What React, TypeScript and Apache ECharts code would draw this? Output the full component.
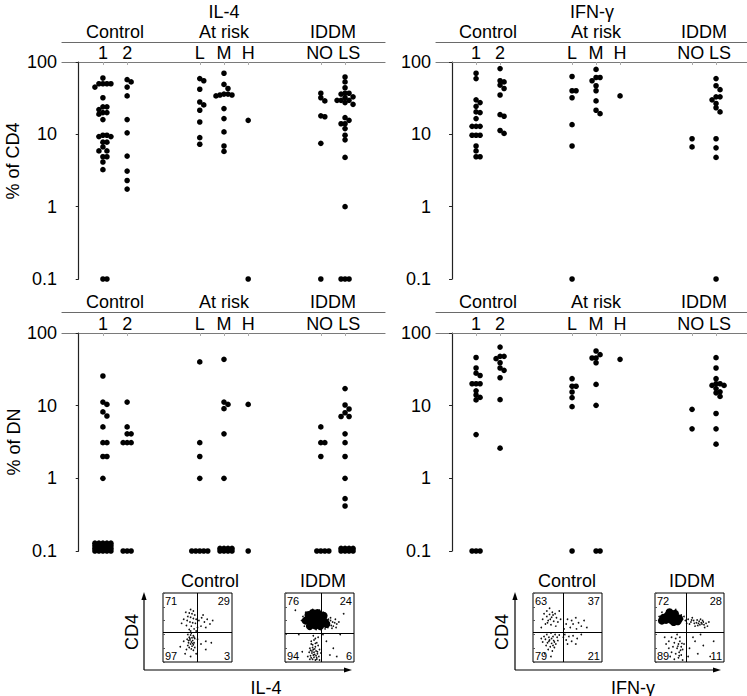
import React, { useEffect, useRef } from "react";
import * as echarts from "echarts";

const FONT = '"Liberation Sans", Arial, Helvetica, sans-serif';

// ---------- dot-plot data ----------
const subgroupLabels = ["1", "2", "L", "M", "H", "NO", "LS"];
const subgroupPos = [1, 2, 5, 6, 7, 10, 11];
const subgroupLabelPos = [1, 2, 5, 6, 7, 9.95, 11.17];
const groupLabels = ["Control", "At risk", "IDDM"];
const groupPos = [1.5, 6, 10.5];
const yTickLabels = ["0.1", "1", "10", "100"];

// values per subgroup, order: 1, 2, L, M, H, NO, LS ; 0.1 = undetectable floor
const il4Cd4 = [
  [60, 50, 50, 50, 50, 45, 32, 24, 24, 22, 20, 20, 19, 16, 9.7, 9.7, 9.3, 9.3, 7.8, 7.8, 6.7, 5.9, 5.9, 4.9, 4.9, 4.15, 3.25, 0.1, 0.1],
  [57, 53, 45, 34, 16, 10.5, 5, 3.1, 2.3, 1.75],
  [59, 55, 42, 28, 25.5, 21.5, 14.8, 9, 7.3],
  [70, 49, 43, 36, 36, 35, 35, 34, 22.7, 16.5, 10.8, 6.9, 5.8],
  [15.6, 0.1],
  [37, 32, 29, 18, 17.5, 7.5, 0.1],
  [62, 53, 44, 37, 37, 36, 33, 32, 29.5, 29.5, 29.5, 27.5, 26, 17, 15.6, 14, 14, 12, 9.7, 8.4, 4.8, 1.0, 0.1, 0.1, 0.1],
];
const ifnCd4 = [
  [70, 59, 30, 27.5, 24.4, 20.4, 20, 16.5, 12.9, 12.9, 12.9, 9.7, 9.7, 9.7, 6.9, 5.9, 4.9, 4.9],
  [81, 55, 53, 48, 43, 35, 18.7, 17.8, 11.3, 10.3],
  [63, 40, 40, 32, 13.6, 6.9, 0.1],
  [79, 61, 61, 55, 47, 40, 29, 21.5, 19.3],
  [34],
  [8.7, 6.7],
  [59, 47, 41.5, 33, 33, 30, 26.7, 23.3, 20.4, 8.7, 6.5, 4.8, 0.1],
];
const il4Dn = [
  [25.6, 11.2, 10.4, 8.2, 7.2, 5.1, 3.1, 3.1, 2, 2, 1,
    0.1, 0.1, 0.1, 0.1, 0.1, 0.1, 0.1, 0.1, 0.1, 0.1, 0.1, 0.1, 0.1, 0.1, 0.1, 0.1, 0.1, 0.1, 0.1, 0.1],
  [11.2, 5.1, 4.1, 4.1, 3.1, 3.1, 3.1, 0.1, 0.1, 0.1],
  [40, 3.1, 2, 1, 0.1, 0.1, 0.1, 0.1, 0.1],
  [43.4, 11.2, 10.4, 9.1, 4.1, 1, 0.1, 0.1, 0.1, 0.1, 0.1, 0.1, 0.1, 0.1],
  [10.4, 0.1],
  [5.1, 3.1, 3.1, 2, 0.1, 0.1, 0.1, 0.1],
  [17.2, 10.2, 9, 8, 7.1, 7.1, 4.1, 3.1, 2, 1, 0.525, 0.416, 0.1, 0.1, 0.1, 0.1, 0.1, 0.1, 0.1, 0.1],
];
const ifnDn = [
  [46, 33, 28, 26, 20, 20, 20, 16, 14, 13, 12, 4, 0.1, 0.1, 0.1],
  [64, 47.7, 47.7, 44.3, 39, 33, 30.6, 24.2, 12.1, 2.6],
  [23.5, 18.5, 18.5, 15.4, 12.9, 9.7, 0.1],
  [56.5, 50.3, 45.3, 45.3, 39, 19.6, 10.1, 0.1, 0.1],
  [43.4],
  [8.9, 4.8],
  [45.8, 33, 23.5, 20, 20, 19, 19, 17.2, 15.5, 15, 13.4, 7.8, 4.8, 2.95],
];

// ---------- flow cytometry data (box coordinates 0..100) ----------
const il4CtrlDots = [
  [40, 76], [44, 74], [38, 71], [42, 70], [46, 68], [36, 66], [40, 65], [44, 63], [48, 62], [35, 60], [39, 58], [43, 57], [47, 56],
  [52, 60], [56, 64], [60, 58], [64, 62], [68, 55], [55, 52], [50, 50], [34, 53], [41, 52], [45, 48], [38, 47], [30, 62], [27, 56],
  [33, 72], [62, 50], [58, 68], [72, 60], [40, 45], [48, 45],
  [36, 40], [40, 39], [44, 38], [38, 36], [42, 35], [46, 34], [35, 33], [39, 32], [43, 31], [41, 29], [37, 28], [45, 28], [40, 26],
  [44, 25], [36, 24], [42, 23], [38, 21], [46, 21], [41, 19], [34, 18], [44, 17], [30, 30], [50, 33], [55, 26], [62, 30], [25, 22],
  [32, 12], [48, 12], [40, 8], [62, 18], [70, 28], [39, 34], [43, 27], [37, 31], [45, 36], [41, 42],
];
const il4IddmCore = [
  [30, 60], [36, 63], [42, 66], [48, 66], [54, 63], [38, 57], [45, 59], [52, 58], [34, 68], [40, 71], [47, 71], [58, 58],
  [44, 53], [51, 52], [60, 55], [36, 52], [56, 67],
];
const il4IddmDots = [
  [60, 58], [64, 55], [66, 60], [70, 52], [72, 57], [75, 55], [68, 49], [62, 50], [58, 48], [78, 58], [73, 62], [66, 64], [24, 60],
  [26, 66], [30, 72], [28, 52], [35, 48], [45, 47], [52, 47], [55, 72], [50, 75], [40, 76], [69, 58], [74, 50], [63, 62], [67, 53],
  [38, 30], [42, 32], [46, 28], [40, 25], [44, 22], [48, 24], [36, 20], [41, 18], [45, 16], [39, 13], [43, 11], [47, 12], [37, 9],
  [42, 7], [46, 6], [40, 4], [44, 3], [49, 8], [35, 14], [50, 18], [38, 26], [44, 34], [48, 36], [41, 38], [36, 4], [50, 3], [33, 8],
  [52, 13], [39, 16], [43, 19], [47, 15], [41, 10], [45, 9], [38, 6], [42, 14], [40, 21], [46, 4], [37, 17], [44, 27],
  [20, 40], [60, 30], [70, 20], [80, 40], [15, 75], [85, 70], [65, 10], [25, 15], [55, 40], [75, 8],
];
const ifnCtrlDots = [
  [24, 78], [20, 74], [28, 72], [16, 70], [24, 69], [32, 70], [20, 66], [27, 65], [34, 64], [14, 62], [22, 60], [30, 59], [36, 58],
  [18, 55], [26, 54], [33, 52], [12, 50], [40, 62], [38, 74], [25, 62], [29, 68], [21, 57],
  [50, 62], [56, 60], [62, 64], [58, 55], [66, 57], [70, 52], [54, 50], [63, 48], [74, 60], [48, 55], [78, 50], [45, 48],
  [20, 40], [26, 42], [32, 40], [16, 37], [23, 36], [29, 37], [35, 36], [18, 33], [24, 32], [30, 31], [36, 31], [14, 29], [21, 28],
  [27, 27], [33, 26], [19, 24], [25, 22], [31, 21], [22, 18], [28, 16], [38, 39], [12, 34], [17, 12], [26, 8], [27, 34], [31, 29],
  [23, 30], [29, 24],
  [46, 40], [52, 37], [58, 38], [48, 32], [56, 30], [64, 34], [50, 26], [62, 26], [70, 40], [44, 36],
];
const ifnIddmCore = [
  [12, 64], [18, 67], [24, 67], [30, 65], [16, 61], [23, 61], [29, 70], [35, 63], [21, 72], [10, 60], [27, 58], [33, 59],
];
const ifnIddmDots = [
  [40, 62], [44, 60], [48, 62], [52, 58], [56, 60], [60, 57], [64, 59], [68, 55], [62, 53], [70, 58], [74, 56], [66, 62], [58, 52],
  [50, 55], [76, 52], [54, 64], [46, 56], [72, 50], [78, 58], [8, 58], [6, 66], [10, 72], [30, 76], [38, 68], [42, 66], [61, 61],
  [65, 54], [69, 60], [57, 56], [53, 61], [67, 57], [71, 54], [63, 56],
  [24, 36], [30, 34], [36, 30], [20, 30], [28, 28], [34, 26], [38, 22], [32, 20], [26, 22], [40, 18], [35, 14], [30, 12], [38, 10],
  [24, 14], [20, 20], [16, 26], [34, 6], [28, 4], [40, 3], [22, 8], [36, 36], [14, 36], [32, 40], [42, 26], [37, 17], [33, 23],
  [39, 27], [35, 9],
  [50, 20], [58, 30], [62, 12], [70, 24], [80, 8], [55, 36], [66, 40], [48, 8], [85, 30],
];

const il4CtrlQuad = [49, 43];
const il4IddmQuad = [52, 42];
const ifnCtrlQuad = [43.5, 43];
const ifnIddmQuad = [46, 43];
// quadrant percentages: top-left, top-right, bottom-left, bottom-right
const il4CtrlPct = ["71", "29", "97", "3"];
const il4IddmPct = ["76", "24", "94", "6"];
const ifnCtrlPct = ["63", "37", "79", "21"];
const ifnIddmPct = ["72", "28", "89", "11"];

function slotOf(k: number) {
  return k === 0 ? 0 : k % 2 === 1 ? (k + 1) / 2 : -k / 2;
}

function swarm(groups: number[][], unitPx: number, pxPerDecade: number) {
  const out: number[][] = [];
  const stepU = 4 / unitPx;
  const V = 4.2;
  groups.forEach((vals, gi) => {
    const cx = subgroupPos[gi];
    const floorN = vals.filter((v) => v <= 0.1).length;
    const rest = vals.filter((v) => v > 0.1).sort((a, b) => b - a);
    const placed: { slot: number; py: number }[] = [];
    rest.forEach((v) => {
      const py = Math.log10(v) * pxPerDecade;
      for (let k = 0; k < 40; k++) {
        const slot = slotOf(k);
        if (!placed.some((p) => p.slot === slot && Math.abs(p.py - py) < V)) {
          placed.push({ slot, py });
          out.push([cx + slot * stepU, v]);
          break;
        }
      }
    });
    if (floorN > 0) {
      const rows = Math.ceil(floorN / 5);
      const perRow = Math.ceil(floorN / rows);
      for (let i = 0; i < floorN; i++) {
        const r = Math.floor(i / perRow);
        const c = i % perRow;
        const v = 0.1 * Math.pow(10, (r * 2.6) / pxPerDecade);
        out.push([cx + slotOf(c) * stepU, v]);
      }
    }
  });
  return out;
}

function nearestLabel(v: number) {
  let best = 0;
  subgroupLabelPos.forEach((p, i) => {
    if (Math.abs(p - v) < Math.abs(subgroupLabelPos[best] - v)) best = i;
  });
  return Math.abs(subgroupLabelPos[best] - v) < 0.05 ? subgroupLabels[best] : "";
}

export default function App() {
  const ref = useRef<HTMLDivElement>(null);
  useEffect(() => {
    if (!ref.current) return;
    const chart = echarts.init(ref.current, null, { renderer: "svg" });

    const panels = [
      { data: il4Cd4, left: 62, top: 62, width: 323, height: 217, min: -0.69, max: 12.65, gOff: 20 },
      { data: ifnCd4, left: 436, top: 62, width: 311, height: 217, min: -0.67, max: 12.29, gOff: 20 },
      { data: il4Dn, left: 62, top: 333, width: 323, height: 218, min: -0.69, max: 12.65, gOff: 21 },
      { data: ifnDn, left: 436, top: 333, width: 311, height: 218, min: -0.67, max: 12.29, gOff: 21 },
    ];
    const boxes = [
      { left: 163, top: 593, width: 69, height: 69, core: [] as number[][], dots: il4CtrlDots, quad: il4CtrlQuad, pct: il4CtrlPct },
      { left: 285, top: 593, width: 69, height: 69, core: il4IddmCore, dots: il4IddmDots, quad: il4IddmQuad, pct: il4IddmPct },
      { left: 533, top: 593, width: 69, height: 69, core: [] as number[][], dots: ifnCtrlDots, quad: ifnCtrlQuad, pct: ifnCtrlPct },
      { left: 655, top: 593, width: 69, height: 69, core: ifnIddmCore, dots: ifnIddmDots, quad: ifnIddmQuad, pct: ifnIddmPct },
    ];

    const grid: any[] = [];
    const xAxis: any[] = [];
    const yAxis: any[] = [];
    const series: any[] = [];
    const txt = { fontFamily: FONT, fontSize: 18, color: "#000", lineHeight: 16 };

    panels.forEach((p) => {
      grid.push({ left: p.left, top: p.top, width: p.width, height: p.height, containLabel: false, outerBoundsMode: "none" });
      const gi = grid.length - 1;
      xAxis.push({
        type: "value", gridIndex: gi, position: "top", min: p.min, max: p.max,
        axisLine: { show: true, lineStyle: { color: "#7a7a7a", width: 1.2 } },
        axisTick: { show: true, inside: true, length: 3, customValues: subgroupPos, lineStyle: { color: "#aaa" } },
        axisLabel: {
          show: true, margin: 1, customValues: subgroupLabelPos, hideOverlap: false, ...txt,
          formatter: (v: number) => nearestLabel(v),
        },
        splitLine: { show: false },
      });
      const subX = xAxis.length - 1;
      xAxis.push({
        type: "value", gridIndex: gi, position: "top", offset: p.gOff, min: p.min, max: p.max,
        axisLine: { show: true, lineStyle: { color: "#6a6a6a", width: 1.2 } },
        axisTick: { show: false },
        axisLabel: {
          show: true, margin: 2, customValues: groupPos, hideOverlap: false, ...txt,
          formatter: (v: number) => groupLabels[groupPos.indexOf(v)] || "",
        },
        splitLine: { show: false },
      });
      yAxis.push({
        type: "log", logBase: 10, gridIndex: gi, min: 0.1, max: 100,
        axisLine: { show: true, lineStyle: { color: "#222", width: 1.2 } },
        axisTick: { show: true, length: 3, lineStyle: { color: "#222" } },
        minorTick: { show: false },
        axisLabel: {
          margin: 5, ...txt,
          formatter: (v: number) => yTickLabels[Math.round(Math.log10(v)) + 1] || "",
        },
        splitLine: { show: false },
      });
      const yi = yAxis.length - 1;
      const unitPx = p.width / (p.max - p.min);
      series.push({
        type: "scatter", xAxisIndex: subX, yAxisIndex: yi, symbolSize: 5.6,
        itemStyle: { color: "#000", opacity: 1 }, silent: true,
        data: swarm(p.data, unitPx, p.height / 3),
      });
    });

    const graphic: any[] = [];
    boxes.forEach((b) => {
      grid.push({
        left: b.left, top: b.top, width: b.width, height: b.height, show: true,
        borderColor: "#000", borderWidth: 1, backgroundColor: "transparent",
        containLabel: false, outerBoundsMode: "none",
      });
      const gi = grid.length - 1;
      xAxis.push({ type: "value", gridIndex: gi, min: 0, max: 100, show: false });
      yAxis.push({
        type: "value", gridIndex: gi, min: 0, max: 100, interval: 20,
        axisLine: { show: false }, axisLabel: { show: false }, splitLine: { show: false },
        axisTick: { show: true, inside: true, length: 2, lineStyle: { color: "#555" } },
      });
      const xi = xAxis.length - 1;
      const yi = yAxis.length - 1;
      series.push({
        type: "scatter", xAxisIndex: xi, yAxisIndex: yi, symbolSize: 1.7, silent: true,
        itemStyle: { color: "#111", opacity: 1 }, data: b.dots,
        markLine: {
          silent: true, symbol: "none", label: { show: false },
          lineStyle: { color: "#000", width: 1, type: "solid", opacity: 1 },
          data: [{ xAxis: b.quad[0] }, { yAxis: b.quad[1] }],
        },
      });
      if (b.core.length) {
        series.push({
          type: "scatter", xAxisIndex: xi, yAxisIndex: yi, symbolSize: 8, silent: true,
          itemStyle: { color: "#000", opacity: 1 }, data: b.core,
        });
      }
      const qf = `11px ${FONT}`;
      graphic.push(
        { type: "text", x: b.left + 2, y: b.top + 2, style: { text: b.pct[0], font: qf, fill: "#000", textAlign: "left", textVerticalAlign: "top" } },
        { type: "text", x: b.left + b.width - 2, y: b.top + 2, style: { text: b.pct[1], font: qf, fill: "#000", textAlign: "right", textVerticalAlign: "top" } },
        { type: "text", x: b.left + 2, y: b.top + b.height - 1, style: { text: b.pct[2], font: qf, fill: "#000", textAlign: "left", textVerticalAlign: "bottom" } },
        { type: "text", x: b.left + b.width - 2, y: b.top + b.height - 1, style: { text: b.pct[3], font: qf, fill: "#000", textAlign: "right", textVerticalAlign: "bottom" } },
      );
    });

    const big = `18px ${FONT}`;
    const t = (text: string, x: number, y: number, rot = 0) => ({
      type: "text", x, y, rotation: rot,
      style: { text, font: big, fill: "#000", textAlign: "center", textVerticalAlign: "middle", lineHeight: 14 },
    });
    graphic.push(
      t("IL-4", 224, 11.5),
      t("IFN-γ", 592, 11.5),
      t("% of CD4", 13, 161, Math.PI / 2),
      t("% of DN", 13.5, 442, Math.PI / 2),
      t("Control", 210, 581),
      t("IDDM", 323, 581),
      t("Control", 567, 581),
      t("IDDM", 692, 581),
      t("CD4", 132, 632, Math.PI / 2),
      t("CD4", 502, 632, Math.PI / 2),
      t("IL-4", 266, 687.5),
      t("IFN-γ", 633, 687.5),
    );
    const arrows = [
      { x0: 144, y0: 670, yTop: 592, xRight: 352 },
      { x0: 515, y0: 670, yTop: 592, xRight: 721 },
    ];
    arrows.forEach((a) => {
      graphic.push(
        { type: "line", shape: { x1: a.x0, y1: a.y0, x2: a.x0, y2: a.yTop + 6 }, style: { stroke: "#000", lineWidth: 1.2 } },
        { type: "line", shape: { x1: a.x0, y1: a.y0, x2: a.xRight - 6, y2: a.y0 }, style: { stroke: "#000", lineWidth: 1.2 } },
        { type: "polygon", shape: { points: [[a.x0, a.yTop], [a.x0 - 2.6, a.yTop + 8], [a.x0 + 2.6, a.yTop + 8]] }, style: { fill: "#000" } },
        { type: "polygon", shape: { points: [[a.xRight, a.y0], [a.xRight - 8, a.y0 - 2.6], [a.xRight - 8, a.y0 + 2.6]] }, style: { fill: "#000" } },
      );
    });

    chart.setOption({
      animation: false,
      backgroundColor: "#fff",
      textStyle: { fontFamily: FONT },
      grid, xAxis, yAxis, series, graphic,
    });
    return () => chart.dispose();
  }, []);
  return (
    <div
      ref={ref}
      style={{ position: "absolute", left: 0, top: 0, width: 747, height: 696, background: "#fff" }}
    />
  );
}
